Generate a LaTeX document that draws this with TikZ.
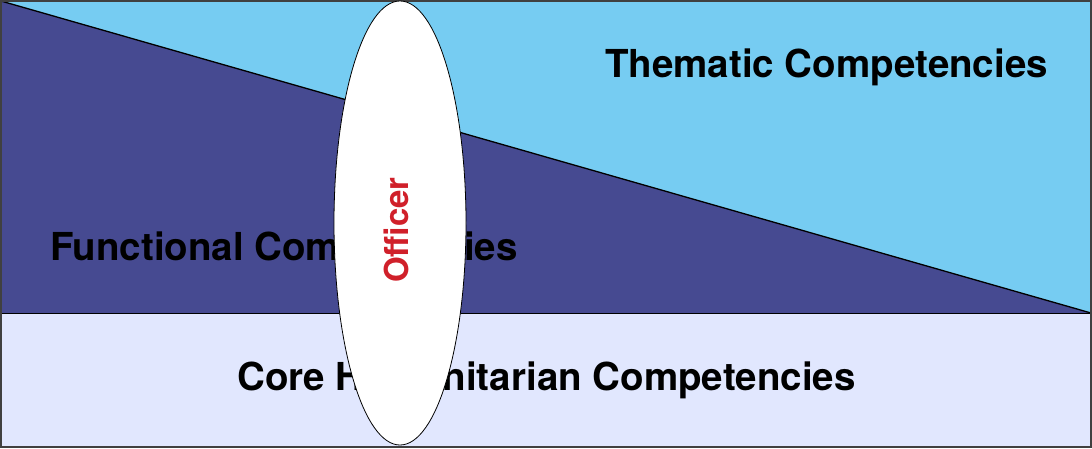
\documentclass[tikz,border=0pt]{standalone}
\usepackage{fontspec}
\setmainfont{TeX Gyre Heros}
\begin{document}
\begin{tikzpicture}[x=1pt,y=-1pt,
  lbl/.style={font=\fontsize{38.5}{42}\selectfont\bfseries, text=black, inner sep=0pt, anchor=base west},
  edge/.style={draw=black, line width=1pt}]
\useasboundingbox (0,0) rectangle (1092,448);
\definecolor{thema}{HTML}{76CCF2}
\definecolor{func}{HTML}{464A91}
\definecolor{core}{HTML}{E1E7FE}
\definecolor{offred}{HTML}{D0202A}
\coordinate (tl) at (1,1);
\coordinate (tr) at (1091,1);
\coordinate (mr) at (1091,313);
\coordinate (ml) at (1,313);
\coordinate (bl) at (1,447);
\coordinate (br) at (1091,447);
\fill[thema] (tl) -- (tr) -- (mr) -- cycle;
\fill[func] (tl) -- (mr) -- (ml) -- cycle;
\fill[core] (ml) rectangle (br);
\draw[edge, line width=1.3pt] (tl) -- (mr);
\draw[edge] (ml) -- (mr);
\draw[draw=black!75, line width=1.5pt] (tl) rectangle (br);
\node[lbl] (thematic) at (605,77) {Thematic Competencies};
\node[lbl] (functional) at (50,260) {Functional Competencies};
\node[lbl] (core) at (237,390) {Core Humanitarian Competencies};
\draw[edge, fill=white, line width=0.8pt] (400,223) ellipse [x radius=66, y radius=222];
\node[font=\fontsize{33}{36}\selectfont\bfseries, text=offred, rotate=90, inner sep=0pt] (officer) at (396,230) {Officer};
\end{tikzpicture}
\end{document}
